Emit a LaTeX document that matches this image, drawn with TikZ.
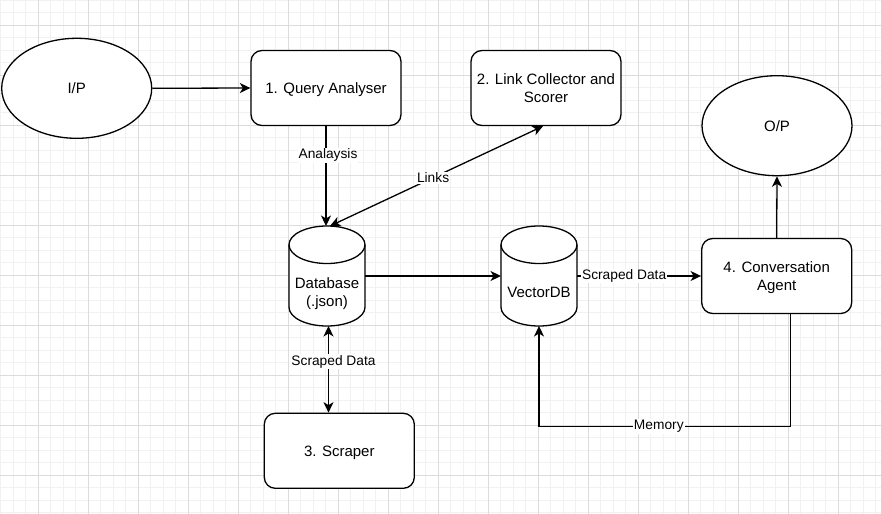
\documentclass[tikz,border=0pt]{standalone}
\usepackage{fontspec}
\setmainfont{Liberation Sans}
\usetikzlibrary{arrows.meta,calc,shapes.geometric}
\definecolor{gridminor}{HTML}{F1F1F1}
\definecolor{gridmajor}{HTML}{DCDCDC}
\tikzset{
  nodefont/.style={font=\fontsize{15}{18}\selectfont,
    execute at begin node={\rule{0pt}{13.9pt}},
    execute at end node={\rule[-3.2pt]{0pt}{3.2pt}}},
  twolines/.style={execute at begin node={\rule{0pt}{31.9pt}}},
  box/.style={draw, line width=1.3pt, rounded corners=11pt, minimum width=150pt, minimum height=75pt, align=center, fill=white, nodefont},
  ell/.style={draw, ellipse, line width=1.3pt, minimum width=150pt, minimum height=100pt, fill=white, nodefont},
  cylnode/.style={minimum width=76pt, minimum height=100pt, inner sep=0pt, outer sep=0pt},
  cyltext/.style={align=center, inner sep=0pt, nodefont},
  tip/.tip={Stealth[length=10.5pt,width=10pt,inset=3pt]},
  arr/.style={line width=1.3pt, -tip},
  darr/.style={line width=1.3pt, tip-tip},
  elab/.style={fill=white, inner sep=1pt, font=\fontsize{13.75}{16.5}\selectfont},
  gminor/.style={draw=gridminor, line width=1pt},
  gmajor/.style={draw=gridmajor, line width=1pt},
}
\newcommand\drawcyl[2]{%
  \draw[line width=1.3pt, fill=white]
    (#1-38,#2-31.25) -- (#1-38,#2+31.25)
    .. controls (#1-38,#2+41.61) and (#1-20.99,#2+50) .. (#1,#2+50)
    .. controls (#1+20.99,#2+50) and (#1+38,#2+41.61) .. (#1+38,#2+31.25)
    -- (#1+38,#2-31.25)
    .. controls (#1+38,#2-41.61) and (#1+20.99,#2-50) .. (#1,#2-50)
    .. controls (#1-20.99,#2-50) and (#1-38,#2-41.61) .. (#1-38,#2-31.25) -- cycle;
  \draw[line width=1.3pt]
    (#1-38,#2-31.25)
    .. controls (#1-38,#2-20.89) and (#1-20.99,#2-12.5) .. (#1,#2-12.5)
    .. controls (#1+20.99,#2-12.5) and (#1+38,#2-20.89) .. (#1+38,#2-31.25);
}
\begin{document}
\begin{tikzpicture}[x=1pt,y=-1pt]
\useasboundingbox (0,0) rectangle (881,514);
\fill[white] (0,0) rectangle (881,514);
% grid
\foreach \i in {0,...,70} {\draw[gminor] ({0.8+12.5*\i},0) -- ({0.8+12.5*\i},514);}
\foreach \i in {0,...,41} {\draw[gminor] (0,{12.5*\i}) -- (881,{12.5*\i});}
\foreach \i in {0,...,16} {\draw[gmajor] ({38.3+50*\i},0) -- ({38.3+50*\i},514);}
\foreach \i in {0,...,9} {\draw[gmajor] (0,{25+50*\i}) -- (881,{25+50*\i});}

% shapes
\node[ell] (ip) at (76.7,88.3) {I/P};
\node[ell] (op) at (777,125.7) {O/P};
\node[box] (qa) at (326,88) {1. Query Analyser};
\node[box, twolines] (lc) at (546,88) {2. Link Collector and\\Scorer};
\node[box, twolines] (ca) at (776.7,276) {4. Conversation\\Agent};
\node[box] (sc) at (339.3,450.8) {3. Scraper};

\drawcyl{327}{276}
\node[cylnode] (db) at (327,276) {};
\node[cyltext, twolines] (dbt) at (327,292) {Database\\(.json)};
\drawcyl{539}{276}
\node[cylnode] (vdb) at (539,276) {};
\node[cyltext] (vdbt) at (539,292.5) {VectorDB};

% connectors
\draw[arr] (ip.east) -- (qa.west);
\draw[arr] (qa.south) -- node[elab, pos=0.29, xshift=2pt] {Analaysis} (qa.south |- db.north);
\draw[darr] ([xshift=3pt]db.north) -- node[elab, pos=0.484] {Links} ([xshift=-3pt]lc.south);
\draw[arr] (db.east) -- (vdb.west);
\draw[arr] (vdb.east) -- node[elab, pos=0.38] {Scraped Data} (ca.west);
\draw[arr] (ca.north) -- (op.south);
\draw[darr] ([xshift=1.5pt]db.south) -- node[elab, pos=0.41, xshift=5pt] {Scraped Data} ([xshift=1.5pt]db.south |- sc.north);
\coordinate (memturn) at ($(ca.south)+(14,112.5)$);
\draw[arr] ([xshift=14pt]ca.south) -- (memturn) -| node[elab, pos=0.262] {Memory} (vdb.south);
\end{tikzpicture}
\end{document}
